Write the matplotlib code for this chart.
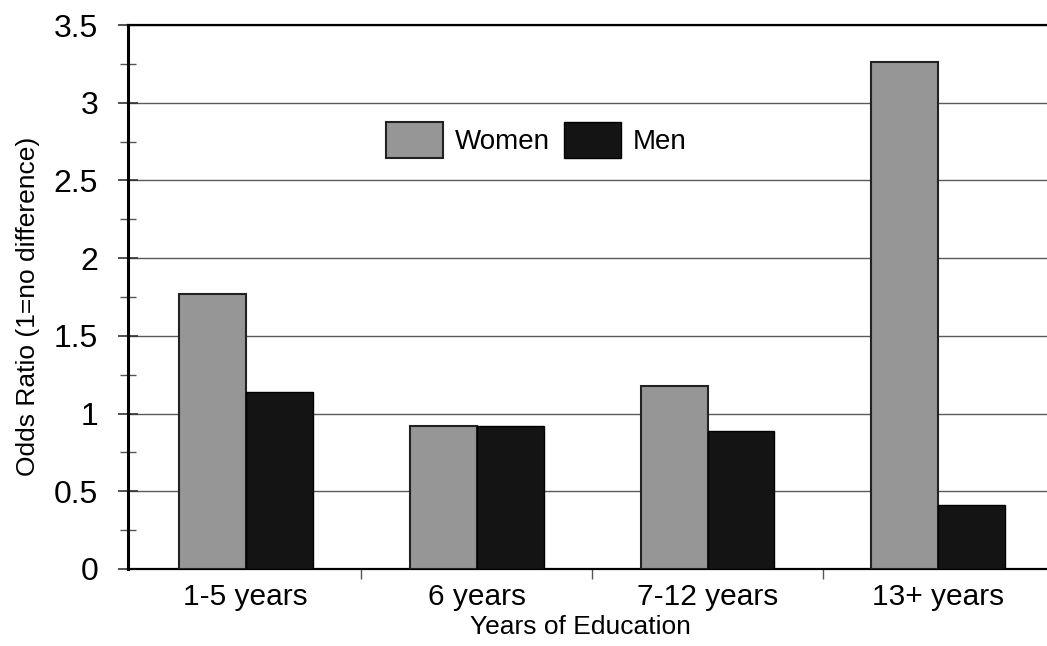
import matplotlib
matplotlib.use("Agg")
import matplotlib.pyplot as plt
import numpy as np

plt.rcParams['font.family'] = ['Liberation Sans', 'DejaVu Sans']

# data
categories = ['1-5 years', '6 years', '7-12 years', '13+ years']
women = [1.77, 0.92, 1.18, 3.26]
men = [1.14, 0.92, 0.89, 0.41]

fig = plt.figure(figsize=(10.47, 6.46), dpi=100)
ax = fig.add_axes([0.1223, 0.1192, 0.8777, 0.8421])

x = np.arange(len(categories))
w = 0.29
ax.bar(x - w/2, women, w, color='#969696', edgecolor='#222222', linewidth=1.5, label='Women', zorder=3)
ax.bar(x + w/2, men, w, color='#141414', edgecolor='#000000', linewidth=1.0, label='Men', zorder=3)

ax.set_xlim(-0.509, 3.47)
ax.set_ylim(0, 3.5)

# y axis: major every 0.5, minor every 0.25, ticks crossing the axis
ax.set_yticks(np.arange(0, 3.51, 0.5))
ax.set_yticklabels(['0', '0.5', '1', '1.5', '2', '2.5', '3', '3.5'])
ax.set_yticks(np.arange(0.25, 3.5, 0.5), minor=True)
ax.tick_params(axis='y', which='major', direction='inout', length=14, width=1.2,
               pad=14.5, labelsize=23, color='#333333')
ax.tick_params(axis='y', which='minor', direction='inout', length=12, width=1.0, color='#555555')

# x axis: labels at categories, small marks between them
ax.set_xticks(x)
ax.set_xticklabels(categories)
ax.set_xticks([0.5, 1.5, 2.5], minor=True)
ax.tick_params(axis='x', which='major', length=0, pad=10, labelsize=21.5)
ax.tick_params(axis='x', which='minor', direction='out', length=7, width=1.0, color='#555555')

ax.yaxis.grid(True, which='major', color='#5a5a5a', linewidth=1.0)
ax.set_axisbelow(True)

ax.spines['left'].set_linewidth(2.2)
ax.spines['bottom'].set_linewidth(1.6)
ax.spines['top'].set_linewidth(1.6)
ax.spines['right'].set_visible(False)

fig.text(0.554, 1 - 627/646, 'Years of Education', ha='center', va='center', fontsize=19)
fig.text(0.027, 1 - 306/646, 'Odds Ratio (1=no difference)', ha='center', va='center',
         rotation=90, fontsize=19)

ax.legend(loc='center left', bbox_to_anchor=(386/1047, 1 - 140/646), bbox_transform=fig.transFigure,
          ncol=2, frameon=False, fontsize=20, handlelength=2.05, handleheight=1.65,
          handletextpad=0.43, columnspacing=0.5, borderpad=0, borderaxespad=0)

fig.savefig('out.png', dpi=100)
